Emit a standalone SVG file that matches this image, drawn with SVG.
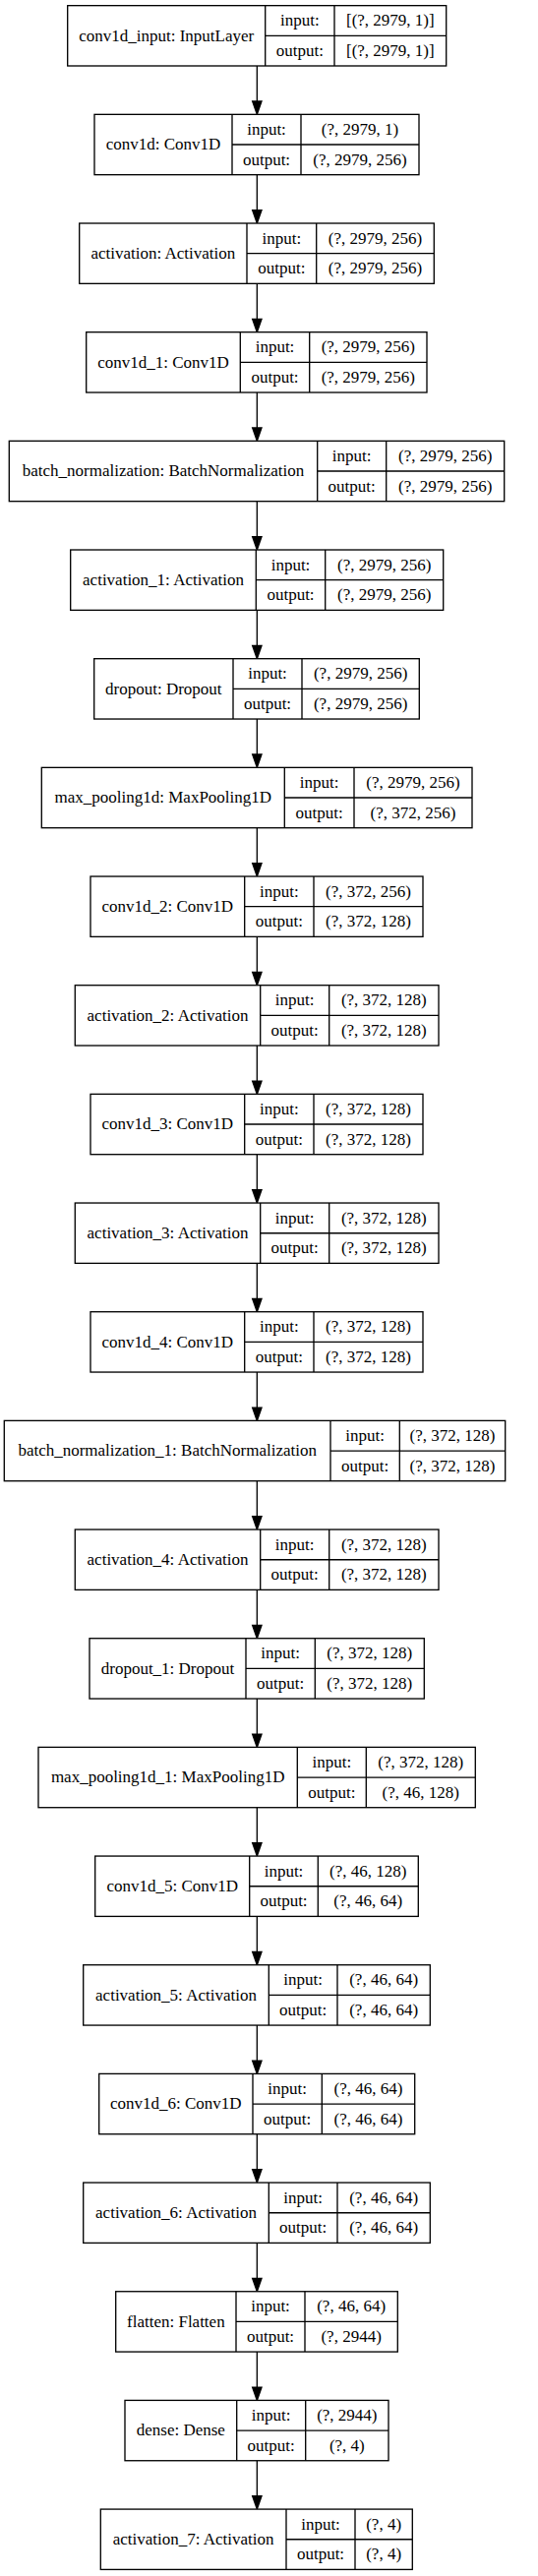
<svg xmlns="http://www.w3.org/2000/svg" width="547" height="2619" viewBox="0 0 547 2619">
<style>
.box rect{fill:#fff;stroke:#000;stroke-width:1.33}
.box path{fill:none;stroke:#000;stroke-width:1.33}
.box text{font-family:"Liberation Serif","Times New Roman",serif;font-size:17px;text-anchor:middle;fill:#000}
.edges line{stroke:#000;stroke-width:1.33}
.edges polygon{fill:#000;stroke:#000;stroke-width:1.33}
</style>
<rect x="0" y="0" width="547" height="2619" fill="#fff"/>
<g class="edges" id="connectors">
<line x1="261.33" y1="67.00" x2="261.33" y2="103.01"/><polygon points="256.67,103.01 266,103.01 261.33,116.34"/>
<line x1="261.33" y1="177.67" x2="261.33" y2="213.68"/><polygon points="256.67,213.68 266,213.68 261.33,227.01"/>
<line x1="261.33" y1="288.34" x2="261.33" y2="324.35"/><polygon points="256.67,324.35 266,324.35 261.33,337.68"/>
<line x1="261.33" y1="399.01" x2="261.33" y2="435.02"/><polygon points="256.67,435.02 266,435.02 261.33,448.35"/>
<line x1="261.33" y1="509.68" x2="261.33" y2="545.69"/><polygon points="256.67,545.69 266,545.69 261.33,559.02"/>
<line x1="261.33" y1="620.35" x2="261.33" y2="656.36"/><polygon points="256.67,656.36 266,656.36 261.33,669.69"/>
<line x1="261.33" y1="731.02" x2="261.33" y2="767.03"/><polygon points="256.67,767.03 266,767.03 261.33,780.36"/>
<line x1="261.33" y1="841.69" x2="261.33" y2="877.70"/><polygon points="256.67,877.70 266,877.70 261.33,891.03"/>
<line x1="261.33" y1="952.36" x2="261.33" y2="988.37"/><polygon points="256.67,988.37 266,988.37 261.33,1001.70"/>
<line x1="261.33" y1="1063.03" x2="261.33" y2="1099.04"/><polygon points="256.67,1099.04 266,1099.04 261.33,1112.37"/>
<line x1="261.33" y1="1173.70" x2="261.33" y2="1209.71"/><polygon points="256.67,1209.71 266,1209.71 261.33,1223.04"/>
<line x1="261.33" y1="1284.37" x2="261.33" y2="1320.38"/><polygon points="256.67,1320.38 266,1320.38 261.33,1333.71"/>
<line x1="261.33" y1="1395.04" x2="261.33" y2="1431.05"/><polygon points="256.67,1431.05 266,1431.05 261.33,1444.38"/>
<line x1="261.33" y1="1505.71" x2="261.33" y2="1541.72"/><polygon points="256.67,1541.72 266,1541.72 261.33,1555.05"/>
<line x1="261.33" y1="1616.38" x2="261.33" y2="1652.39"/><polygon points="256.67,1652.39 266,1652.39 261.33,1665.72"/>
<line x1="261.33" y1="1727.05" x2="261.33" y2="1763.06"/><polygon points="256.67,1763.06 266,1763.06 261.33,1776.39"/>
<line x1="261.33" y1="1837.72" x2="261.33" y2="1873.73"/><polygon points="256.67,1873.73 266,1873.73 261.33,1887.06"/>
<line x1="261.33" y1="1948.39" x2="261.33" y2="1984.40"/><polygon points="256.67,1984.40 266,1984.40 261.33,1997.73"/>
<line x1="261.33" y1="2059.06" x2="261.33" y2="2095.07"/><polygon points="256.67,2095.07 266,2095.07 261.33,2108.40"/>
<line x1="261.33" y1="2169.73" x2="261.33" y2="2205.74"/><polygon points="256.67,2205.74 266,2205.74 261.33,2219.07"/>
<line x1="261.33" y1="2280.40" x2="261.33" y2="2316.41"/><polygon points="256.67,2316.41 266,2316.41 261.33,2329.74"/>
<line x1="261.33" y1="2391.07" x2="261.33" y2="2427.08"/><polygon points="256.67,2427.08 266,2427.08 261.33,2440.41"/>
<line x1="261.33" y1="2501.74" x2="261.33" y2="2537.75"/><polygon points="256.67,2537.75 266,2537.75 261.33,2551.08"/>
</g>

<g class="box" id="n0" transform="translate(0,5.67)">
<rect x="68.7" y="0" width="385" height="61.33"/>
<path d="M269.7,0V61.33M340,0V61.33M269.7,30.67H453.7"/>
<text x="169.2" y="36">conv1d_input: InputLayer</text>
<text x="304.85" y="20.5">input:</text><text x="396.85" y="20.5">[(?, 2979, 1)]</text>
<text x="304.85" y="51.3">output:</text><text x="396.85" y="51.3">[(?, 2979, 1)]</text>
</g>

<g class="box" id="n1" transform="translate(0,116.34)">
<rect x="96" y="0" width="330" height="61.33"/>
<path d="M236,0V61.33M306,0V61.33M236,30.67H426"/>
<text x="166" y="36">conv1d: Conv1D</text>
<text x="271" y="20.5">input:</text><text x="366" y="20.5">(?, 2979, 1)</text>
<text x="271" y="51.3">output:</text><text x="366" y="51.3">(?, 2979, 256)</text>
</g>

<g class="box" id="n2" transform="translate(0,227.01)">
<rect x="80.7" y="0" width="360.6" height="61.33"/>
<path d="M251,0V61.33M321.7,0V61.33M251,30.67H441.3"/>
<text x="165.85" y="36">activation: Activation</text>
<text x="286.35" y="20.5">input:</text><text x="381.5" y="20.5">(?, 2979, 256)</text>
<text x="286.35" y="51.3">output:</text><text x="381.5" y="51.3">(?, 2979, 256)</text>
</g>

<g class="box" id="n3" transform="translate(0,337.68)">
<rect x="87.7" y="0" width="346.3" height="61.33"/>
<path d="M244.3,0V61.33M314.7,0V61.33M244.3,30.67H434"/>
<text x="166" y="36">conv1d_1: Conv1D</text>
<text x="279.5" y="20.5">input:</text><text x="374.35" y="20.5">(?, 2979, 256)</text>
<text x="279.5" y="51.3">output:</text><text x="374.35" y="51.3">(?, 2979, 256)</text>
</g>

<g class="box" id="n4" transform="translate(0,448.35)">
<rect x="9.3" y="0" width="503.4" height="61.33"/>
<path d="M322.7,0V61.33M392.7,0V61.33M322.7,30.67H512.7"/>
<text x="166" y="36">batch_normalization: BatchNormalization</text>
<text x="357.7" y="20.5">input:</text><text x="452.7" y="20.5">(?, 2979, 256)</text>
<text x="357.7" y="51.3">output:</text><text x="452.7" y="51.3">(?, 2979, 256)</text>
</g>

<g class="box" id="n5" transform="translate(0,559.02)">
<rect x="71.7" y="0" width="379" height="61.33"/>
<path d="M260.3,0V61.33M330.7,0V61.33M260.3,30.67H450.7"/>
<text x="166" y="36">activation_1: Activation</text>
<text x="295.5" y="20.5">input:</text><text x="390.7" y="20.5">(?, 2979, 256)</text>
<text x="295.5" y="51.3">output:</text><text x="390.7" y="51.3">(?, 2979, 256)</text>
</g>

<g class="box" id="n6" transform="translate(0,669.69)">
<rect x="95.7" y="0" width="330.6" height="61.33"/>
<path d="M237,0V61.33M307,0V61.33M237,30.67H426.3"/>
<text x="166.35" y="36">dropout: Dropout</text>
<text x="272" y="20.5">input:</text><text x="366.65" y="20.5">(?, 2979, 256)</text>
<text x="272" y="51.3">output:</text><text x="366.65" y="51.3">(?, 2979, 256)</text>
</g>

<g class="box" id="n7" transform="translate(0,780.36)">
<rect x="42.3" y="0" width="437.7" height="61.33"/>
<path d="M289.3,0V61.33M360,0V61.33M289.3,30.67H480"/>
<text x="165.8" y="36">max_pooling1d: MaxPooling1D</text>
<text x="324.65" y="20.5">input:</text><text x="420" y="20.5">(?, 2979, 256)</text>
<text x="324.65" y="51.3">output:</text><text x="420" y="51.3">(?, 372, 256)</text>
</g>

<g class="box" id="n8" transform="translate(0,891.03)">
<rect x="92" y="0" width="338" height="61.33"/>
<path d="M248.7,0V61.33M319,0V61.33M248.7,30.67H430"/>
<text x="170.35" y="36">conv1d_2: Conv1D</text>
<text x="283.85" y="20.5">input:</text><text x="374.5" y="20.5">(?, 372, 256)</text>
<text x="283.85" y="51.3">output:</text><text x="374.5" y="51.3">(?, 372, 128)</text>
</g>

<g class="box" id="n9" transform="translate(0,1001.70)">
<rect x="76.3" y="0" width="369.7" height="61.33"/>
<path d="M264.7,0V61.33M334.7,0V61.33M264.7,30.67H446"/>
<text x="170.5" y="36">activation_2: Activation</text>
<text x="299.7" y="20.5">input:</text><text x="390.35" y="20.5">(?, 372, 128)</text>
<text x="299.7" y="51.3">output:</text><text x="390.35" y="51.3">(?, 372, 128)</text>
</g>

<g class="box" id="n10" transform="translate(0,1112.37)">
<rect x="92" y="0" width="338" height="61.33"/>
<path d="M248.7,0V61.33M319,0V61.33M248.7,30.67H430"/>
<text x="170.35" y="36">conv1d_3: Conv1D</text>
<text x="283.85" y="20.5">input:</text><text x="374.5" y="20.5">(?, 372, 128)</text>
<text x="283.85" y="51.3">output:</text><text x="374.5" y="51.3">(?, 372, 128)</text>
</g>

<g class="box" id="n11" transform="translate(0,1223.04)">
<rect x="76.3" y="0" width="369.7" height="61.33"/>
<path d="M264.7,0V61.33M334.7,0V61.33M264.7,30.67H446"/>
<text x="170.5" y="36">activation_3: Activation</text>
<text x="299.7" y="20.5">input:</text><text x="390.35" y="20.5">(?, 372, 128)</text>
<text x="299.7" y="51.3">output:</text><text x="390.35" y="51.3">(?, 372, 128)</text>
</g>

<g class="box" id="n12" transform="translate(0,1333.71)">
<rect x="92" y="0" width="338" height="61.33"/>
<path d="M248.7,0V61.33M319,0V61.33M248.7,30.67H430"/>
<text x="170.35" y="36">conv1d_4: Conv1D</text>
<text x="283.85" y="20.5">input:</text><text x="374.5" y="20.5">(?, 372, 128)</text>
<text x="283.85" y="51.3">output:</text><text x="374.5" y="51.3">(?, 372, 128)</text>
</g>

<g class="box" id="n13" transform="translate(0,1444.38)">
<rect x="4.3" y="0" width="509.4" height="61.33"/>
<path d="M336,0V61.33M406.3,0V61.33M336,30.67H513.7"/>
<text x="170.15" y="36">batch_normalization_1: BatchNormalization</text>
<text x="371.15" y="20.5">input:</text><text x="460" y="20.5">(?, 372, 128)</text>
<text x="371.15" y="51.3">output:</text><text x="460" y="51.3">(?, 372, 128)</text>
</g>

<g class="box" id="n14" transform="translate(0,1555.05)">
<rect x="76.3" y="0" width="369.7" height="61.33"/>
<path d="M264.7,0V61.33M334.7,0V61.33M264.7,30.67H446"/>
<text x="170.5" y="36">activation_4: Activation</text>
<text x="299.7" y="20.5">input:</text><text x="390.35" y="20.5">(?, 372, 128)</text>
<text x="299.7" y="51.3">output:</text><text x="390.35" y="51.3">(?, 372, 128)</text>
</g>

<g class="box" id="n15" transform="translate(0,1665.72)">
<rect x="91" y="0" width="340.3" height="61.33"/>
<path d="M250,0V61.33M320.3,0V61.33M250,30.67H431.3"/>
<text x="170.5" y="36">dropout_1: Dropout</text>
<text x="285.15" y="20.5">input:</text><text x="375.8" y="20.5">(?, 372, 128)</text>
<text x="285.15" y="51.3">output:</text><text x="375.8" y="51.3">(?, 372, 128)</text>
</g>

<g class="box" id="n16" transform="translate(0,1776.39)">
<rect x="39" y="0" width="444.3" height="61.33"/>
<path d="M302.3,0V61.33M372.3,0V61.33M302.3,30.67H483.3"/>
<text x="170.65" y="36">max_pooling1d_1: MaxPooling1D</text>
<text x="337.3" y="20.5">input:</text><text x="427.8" y="20.5">(?, 372, 128)</text>
<text x="337.3" y="51.3">output:</text><text x="427.8" y="51.3">(?, 46, 128)</text>
</g>

<g class="box" id="n17" transform="translate(0,1887.06)">
<rect x="96.7" y="0" width="328.6" height="61.33"/>
<path d="M253.7,0V61.33M323.3,0V61.33M253.7,30.67H425.3"/>
<text x="175.2" y="36">conv1d_5: Conv1D</text>
<text x="288.5" y="20.5">input:</text><text x="374.3" y="20.5">(?, 46, 128)</text>
<text x="288.5" y="51.3">output:</text><text x="374.3" y="51.3">(?, 46, 64)</text>
</g>

<g class="box" id="n18" transform="translate(0,1997.73)">
<rect x="84.7" y="0" width="352.6" height="61.33"/>
<path d="M273.3,0V61.33M343,0V61.33M273.3,30.67H437.3"/>
<text x="179" y="36">activation_5: Activation</text>
<text x="308.15" y="20.5">input:</text><text x="390.15" y="20.5">(?, 46, 64)</text>
<text x="308.15" y="51.3">output:</text><text x="390.15" y="51.3">(?, 46, 64)</text>
</g>

<g class="box" id="n19" transform="translate(0,2108.40)">
<rect x="100.7" y="0" width="321" height="61.33"/>
<path d="M257,0V61.33M327.3,0V61.33M257,30.67H421.7"/>
<text x="178.85" y="36">conv1d_6: Conv1D</text>
<text x="292.15" y="20.5">input:</text><text x="374.5" y="20.5">(?, 46, 64)</text>
<text x="292.15" y="51.3">output:</text><text x="374.5" y="51.3">(?, 46, 64)</text>
</g>

<g class="box" id="n20" transform="translate(0,2219.07)">
<rect x="84.7" y="0" width="352.6" height="61.33"/>
<path d="M273.3,0V61.33M343,0V61.33M273.3,30.67H437.3"/>
<text x="179" y="36">activation_6: Activation</text>
<text x="308.15" y="20.5">input:</text><text x="390.15" y="20.5">(?, 46, 64)</text>
<text x="308.15" y="51.3">output:</text><text x="390.15" y="51.3">(?, 46, 64)</text>
</g>

<g class="box" id="n21" transform="translate(0,2329.74)">
<rect x="117.7" y="0" width="286.6" height="61.33"/>
<path d="M240,0V61.33M310,0V61.33M240,30.67H404.3"/>
<text x="178.85" y="36">flatten: Flatten</text>
<text x="275" y="20.5">input:</text><text x="357.15" y="20.5">(?, 46, 64)</text>
<text x="275" y="51.3">output:</text><text x="357.15" y="51.3">(?, 2944)</text>
</g>

<g class="box" id="n22" transform="translate(0,2440.41)">
<rect x="127" y="0" width="268" height="61.33"/>
<path d="M240.7,0V61.33M310.7,0V61.33M240.7,30.67H395"/>
<text x="183.85" y="36">dense: Dense</text>
<text x="275.7" y="20.5">input:</text><text x="352.85" y="20.5">(?, 2944)</text>
<text x="275.7" y="51.3">output:</text><text x="352.85" y="51.3">(?, 4)</text>
</g>

<g class="box" id="n23" transform="translate(0,2551.08)">
<rect x="102.3" y="0" width="317" height="61.33"/>
<path d="M291,0V61.33M361,0V61.33M291,30.67H419.3"/>
<text x="196.65" y="36">activation_7: Activation</text>
<text x="326" y="20.5">input:</text><text x="390.15" y="20.5">(?, 4)</text>
<text x="326" y="51.3">output:</text><text x="390.15" y="51.3">(?, 4)</text>
</g>
</svg>
